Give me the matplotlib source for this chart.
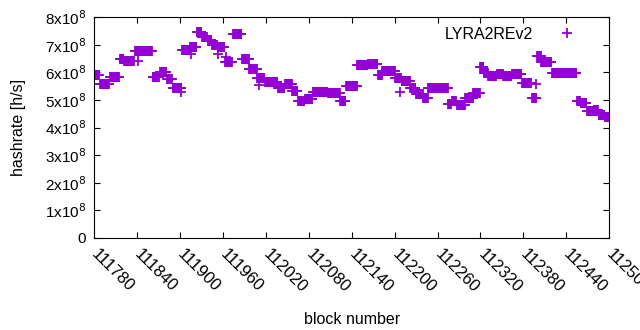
import numpy as np
import matplotlib
matplotlib.use('Agg')
import matplotlib.pyplot as plt

plt.rcParams['font.family'] = ['Liberation Sans', 'DejaVu Sans']

# runs of blocks with the same hashrate (start block, end block exclusive, value in 1e8 h/s)
run_start = [111780, 111788, 111802, 111816, 111822, 111837, 111862, 111872, 111882, 111890,
             111903, 111914, 111924, 111931, 111939, 111945, 111953, 111963, 111974, 111987,
             111997, 112008, 112019, 112037, 112047, 112057, 112065, 112075, 112086, 112107,
             112124, 112132, 112148, 112163, 112177, 112183, 112201, 112210, 112222, 112230,
             112240, 112247, 112275, 112280, 112287, 112299, 112310, 112320, 112325, 112331,
             112343, 112352, 112364, 112378, 112392, 112399, 112405, 112420, 112455, 112460,
             112469, 112478, 112485, 112494]
run_end = run_start[1:] + [112500]
run_value = [5.90, 5.58, 5.82, 6.48, 6.40, 6.79, 5.84, 6.00, 5.76, 5.45,
             6.81, 6.92, 7.46, 7.28, 7.17, 6.98, 6.92, 6.38, 7.39, 6.49,
             6.12, 5.78, 5.65, 5.43, 5.58, 5.33, 4.96, 5.04, 5.29, 5.25,
             4.96, 5.50, 6.27, 6.30, 5.90, 6.05, 5.80, 5.69, 5.43, 5.22,
             5.07, 5.43, 4.86, 4.96, 4.82, 5.07, 5.25, 6.20, 5.98, 5.87,
             5.94, 5.87, 5.94, 5.62, 5.07, 6.59, 6.38, 5.98, 4.96, 4.89,
             4.60, 4.64, 4.46, 4.38]

# single blocks off their run
single_block = [111842, 111901, 111915, 111953, 111964, 112011, 112208, 112398]
single_value = [6.40, 5.30, 6.67, 6.67, 6.56, 5.54, 5.29, 5.58]

blocks = []
hashrate = []
for s, e, v in zip(run_start, run_end, run_value):
    for b in range(s, e):
        blocks.append(b)
        hashrate.append(v * 1e8)
blocks += single_block
hashrate += [v * 1e8 for v in single_value]

fig = plt.figure(figsize=(6.4, 3.3), dpi=100)
ax = fig.add_axes([0.147, 0.279, 0.805, 0.669])

ax.plot(blocks, hashrate, linestyle='None', marker='+', markersize=6.5,
        markeredgewidth=1.3, color='#9400d3', label='LYRA2REv2')

ax.set_xlim(111780, 112500)
ax.set_ylim(0, 8e8)
xt = np.arange(111780, 112501, 60)
ax.set_xticks(xt)
ax.set_xticklabels([str(t) for t in xt], rotation=-45, ha='left', va='center',
                   rotation_mode='anchor', fontsize=12)
yt = np.arange(0, 9) * 1e8
ax.set_yticks(yt)
ax.set_yticklabels(['0'] + ['%dx10$^{8}$' % k for k in range(1, 9)], fontsize=11)
ax.tick_params(direction='in', length=4, top=True, right=True, pad=6)
ax.tick_params(axis='x', pad=10)

ax.set_xlabel('block number', fontsize=11.5, labelpad=12)
ax.set_ylabel('hashrate [h/s]', fontsize=11.5, labelpad=13)

ax.legend(loc='upper right', bbox_to_anchor=(0.975, 1.0), frameon=False,
          markerfirst=False, fontsize=11.5, handlelength=2.5, handletextpad=0.9,
          borderaxespad=0.2)

fig.savefig('out.png')
